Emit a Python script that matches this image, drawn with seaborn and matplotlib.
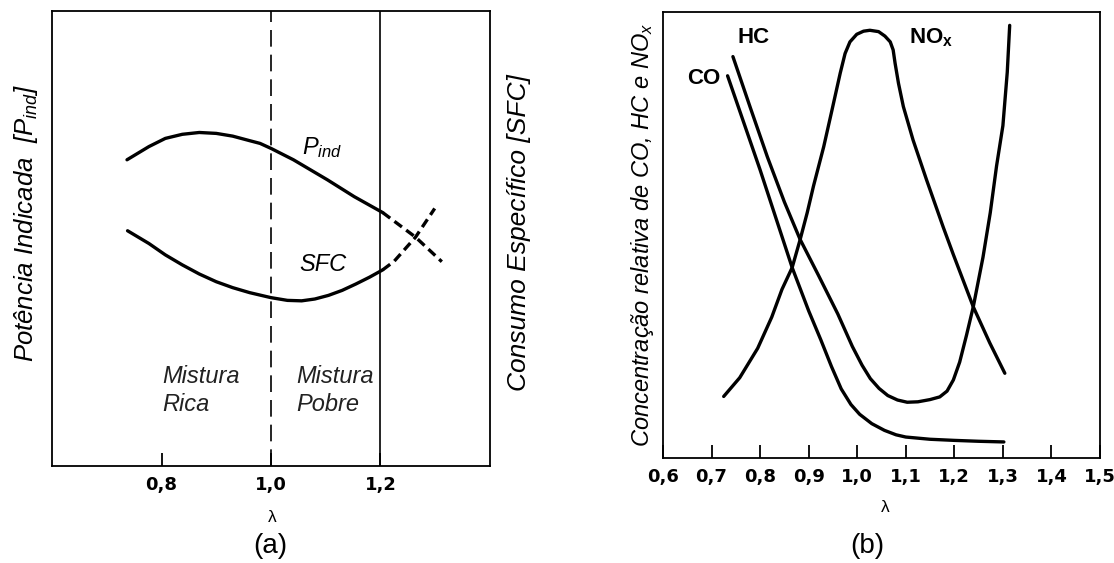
import matplotlib
matplotlib.use("Agg")
import matplotlib.pyplot as plt
import seaborn as sns

# ---- panel (a): indicated power and specific fuel consumption vs lambda ----
pind_lam = [0.737, 0.777, 0.807, 0.838, 0.869, 0.900, 0.930, 0.961, 0.980, 1.000,
            1.041, 1.103, 1.152, 1.204]
pind_val = [67.3, 70.2, 72.0, 72.9, 73.3, 73.1, 72.5, 71.5, 70.9, 69.8,
            67.3, 62.9, 59.2, 55.7]
pind_ext_lam = [1.204, 1.264, 1.312]
pind_ext_val = [55.7, 50.3, 44.9]

sfc_lam = [0.738, 0.777, 0.807, 0.838, 0.869, 0.900, 0.930, 0.961, 1.000, 1.030,
           1.056, 1.080, 1.105, 1.130, 1.155, 1.180, 1.204]
sfc_val = [51.7, 48.9, 46.4, 44.2, 42.2, 40.5, 39.2, 38.1, 37.0, 36.4,
           36.3, 36.7, 37.5, 38.6, 40.0, 41.5, 43.1]
sfc_ext_lam = [1.204, 1.225, 1.264, 1.299]
sfc_ext_val = [43.1, 45.0, 50.3, 56.6]

stoich_lam = 1.0
lean_limit_lam = 1.2

a_ticks = [0.8, 1.0, 1.2]
a_ticklabels = ["0,8", "1,0", "1,2"]

# ---- panel (b): relative CO, HC and NOx concentration vs lambda ----
co_lam = [0.733, 0.800, 0.866, 0.900, 0.925, 0.947, 0.967, 0.987, 1.005, 1.030,
          1.056, 1.080, 1.100, 1.150, 1.200, 1.250, 1.302]
co_val = [85.7, 64.6, 42.7, 33.0, 26.5, 20.5, 15.5, 12.0, 9.8, 7.7,
          6.2, 5.2, 4.7, 4.2, 3.95, 3.75, 3.6]

hc_lam = [0.744, 0.780, 0.815, 0.850, 0.882, 0.920, 0.960, 0.990, 1.010, 1.027,
          1.045, 1.063, 1.083, 1.103, 1.125, 1.150, 1.170, 1.185, 1.198, 1.211,
          1.225, 1.239, 1.259, 1.274, 1.287, 1.300, 1.309, 1.314]
hc_val = [90.0, 78.5, 67.5, 57.4, 49.1, 41.0, 32.3, 25.0, 20.8, 17.8,
          15.6, 14.0, 13.0, 12.5, 12.6, 13.1, 13.7, 15.0, 17.5, 21.5,
          27.5, 33.9, 45.0, 55.0, 65.5, 74.5, 86.5, 97.0]

nox_lam = [0.725, 0.758, 0.795, 0.824, 0.845, 0.866, 0.882, 0.897, 0.910, 0.931,
           0.948, 0.965, 0.975, 0.985, 0.999, 1.013, 1.026, 1.044, 1.057, 1.068,
           1.074, 1.078, 1.085, 1.095, 1.115, 1.143, 1.177, 1.198, 1.239, 1.273,
           1.304]
nox_val = [13.8, 18.0, 24.6, 31.6, 37.8, 42.7, 48.8, 55.0, 61.0, 69.8,
           78.0, 86.3, 90.7, 93.3, 95.0, 95.7, 95.9, 95.6, 94.6, 93.3,
           91.5, 88.5, 84.0, 78.8, 71.3, 62.3, 51.8, 45.6, 33.9, 25.8,
           19.0]

b_ticks = [0.6, 0.7, 0.8, 0.9, 1.0, 1.1, 1.2, 1.3, 1.4, 1.5]
b_ticklabels = ["0,6", "0,7", "0,8", "0,9", "1,0", "1,1", "1,2", "1,3", "1,4", "1,5"]

# ---- style ----
sns.set_theme(style="white")
plt.rcParams["font.family"] = ["Liberation Sans", "DejaVu Sans"]
plt.rcParams["mathtext.fontset"] = "custom"
plt.rcParams["mathtext.rm"] = "Liberation Sans"
plt.rcParams["mathtext.it"] = "Liberation Sans:italic"
plt.rcParams["mathtext.bf"] = "Liberation Sans:bold"
plt.rcParams["axes.edgecolor"] = "black"
plt.rcParams["axes.linewidth"] = 1.3
plt.rcParams["text.color"] = "black"
plt.rcParams["xtick.color"] = "black"
plt.rcParams["xtick.labelcolor"] = "black"

INK = "black"
CURVE_LW = 2.4
EXT_DASH = (0, (2.8, 1.6))
TICK_FONT = dict(fontfamily="DejaVu Sans", fontweight="bold", fontsize=13)

fig = plt.figure(figsize=(11.14, 5.63), dpi=100)
W, H = 1114, 563


def px_axes(x0, y0, x1, y1):
    return fig.add_axes([x0 / W, 1 - y1 / H, (x1 - x0) / W, (y1 - y0) / H])


def style_axis(ax, xlim, ticks, labels):
    ax.set_xlim(*xlim)
    ax.set_ylim(0, 100)
    ax.set_yticks([])
    ax.set_xticks(ticks)
    ax.set_xticklabels(labels, **TICK_FONT)
    ax.tick_params(axis="x", direction="in", length=9.5, width=1.3, pad=7,
                   color=INK, labelcolor=INK, bottom=True)
    ax.set_xlabel("")
    ax.set_ylabel("")
    for s in ax.spines.values():
        s.set_visible(True)
        s.set_color(INK)
        s.set_linewidth(1.3)


# ---------------- panel (a) ----------------
ax1 = px_axes(52, 11, 490, 466)
sns.lineplot(x=pind_lam, y=pind_val, ax=ax1, color=INK, lw=CURVE_LW, sort=False)
sns.lineplot(x=pind_ext_lam, y=pind_ext_val, ax=ax1, color=INK, lw=CURVE_LW,
             sort=False, linestyle=EXT_DASH)
sns.lineplot(x=sfc_lam, y=sfc_val, ax=ax1, color=INK, lw=CURVE_LW, sort=False)
sns.lineplot(x=sfc_ext_lam, y=sfc_ext_val, ax=ax1, color=INK, lw=CURVE_LW,
             sort=False, linestyle=EXT_DASH)
ax1.axvline(stoich_lam, color=INK, lw=1.2, linestyle=(0, (10, 4.8)))
ax1.axvline(lean_limit_lam, color=INK, lw=1.2)
style_axis(ax1, (0.6, 1.4), a_ticks, a_ticklabels)

ax1.text(1.093, 70.0, r"$P_{ind}$", fontsize=17, ha="center", va="center")
ax1.text(1.094, 44.2, "SFC", fontsize=17, style="italic", ha="center", va="center")
ax1.text(0.801, 16.6, "Mistura\nRica", fontsize=17, style="italic",
         ha="left", va="center", linespacing=1.3, color="#222222")
ax1.text(1.046, 16.6, "Mistura\nPobre", fontsize=17, style="italic",
         ha="left", va="center", linespacing=1.3, color="#222222")

fig.text(26 / W, 1 - 223 / H, r"Potência Indicada  [$P_{ind}$]", fontsize=18.5,
         style="italic", rotation=90, ha="center", va="center")
fig.text(519 / W, 1 - 233 / H, "Consumo Específico [SFC]", fontsize=19,
         style="italic", rotation=90, ha="center", va="center")
fig.text(272 / W, 1 - 517 / H, "λ", fontsize=12.5, ha="center", va="center")
fig.text(270 / W, 1 - 546 / H, "(a)", fontsize=20, ha="center", va="center")

# ---------------- panel (b) ----------------
ax2 = px_axes(663, 12, 1100, 458)
sns.lineplot(x=co_lam, y=co_val, ax=ax2, color=INK, lw=CURVE_LW, sort=False)
sns.lineplot(x=hc_lam, y=hc_val, ax=ax2, color=INK, lw=CURVE_LW, sort=False)
sns.lineplot(x=nox_lam, y=nox_val, ax=ax2, color=INK, lw=CURVE_LW, sort=False)
style_axis(ax2, (0.6, 1.5), b_ticks, b_ticklabels)

ax2.text(0.684, 85.2, "CO", fontsize=16, fontweight="bold", ha="center", va="center")
ax2.text(0.786, 94.2, "HC", fontsize=16, fontweight="bold", ha="center", va="center")
ax2.text(1.153, 94.3, r"NO$_\mathbf{x}$", fontsize=16, fontweight="bold",
         ha="center", va="center")

fig.text(643 / W, 1 - 235 / H, r"Concentração relativa de CO, HC e NO$_x$",
         fontsize=17, style="italic", rotation=90, ha="center", va="center")
fig.text(885 / W, 1 - 508 / H, "λ", fontsize=12.5, ha="center", va="center")
fig.text(867 / W, 1 - 546 / H, "(b)", fontsize=20, ha="center", va="center")

fig.savefig("out.png", dpi=100, facecolor="white")
